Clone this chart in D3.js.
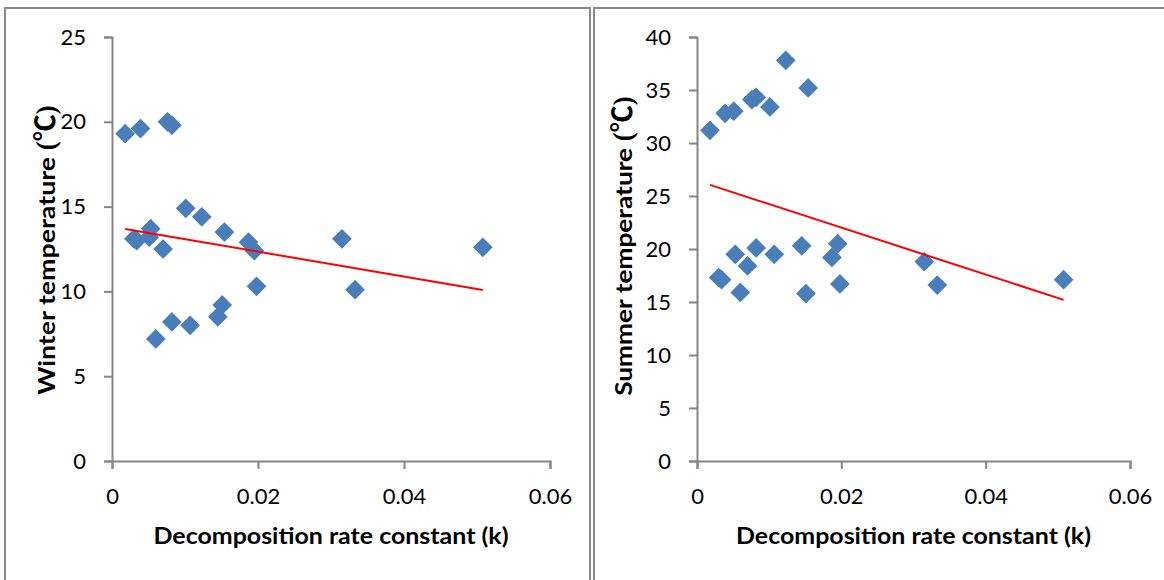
<!DOCTYPE html>
<html>
<head>
<meta charset="utf-8">
<script src="https://cdn.jsdelivr.net/npm/d3@7"></script>
<style>
  body { margin: 0; background: #fff; }
  svg { display: block; }
</style>
</head>
<body>
<svg id="chart" width="1164" height="580"></svg>
<script>
// decomposition rate constant k, one per sample (same samples in both panels)
const rateK = [0.0018, 0.0030, 0.0034, 0.0039, 0.0051, 0.0053, 0.0060, 0.0070, 0.0076, 0.0082, 0.0082, 0.0101,
               0.0107, 0.0123, 0.0145, 0.0151, 0.0154, 0.0187, 0.0195, 0.0198, 0.0315, 0.0333, 0.0508];
const winterTemp = [19.3, 13.1, 13.0, 19.6, 13.2, 13.7, 7.2, 12.5, 20.0, 19.8, 8.2, 14.9,
                    8.0, 14.4, 8.5, 9.2, 13.5, 12.9, 12.4, 10.3, 13.1, 10.1, 12.6];
const summerTemp = [31.2, 17.3, 17.1, 32.8, 33.0, 19.5, 15.9, 18.4, 34.1, 34.3, 20.1, 33.4,
                    19.5, 37.8, 20.3, 15.8, 35.2, 19.2, 20.5, 16.7, 18.8, 16.6, 17.1];

// linear trendline ends
const trendK = [0.0018, 0.0508];
const winterTrend = [13.68, 10.08];
const summerTrend = [26.05, 15.2];

const xTicks = [0, 0.02, 0.04, 0.06];
const winterTicks = [0, 5, 10, 15, 20, 25];
const summerTicks = [0, 5, 10, 15, 20, 25, 30, 35, 40];

const svg = d3.select("#chart");
const FONT = "Lato, 'Open Sans', sans-serif";

// outer frames of the two pasted charts
const frame = svg.append("g")
  .attr("fill", "none")
  .attr("stroke", "#8a8a8a")
  .attr("stroke-width", 2);
frame.append("path").attr("d", "M5,590 V8 H590 V590");
frame.append("path").attr("d", "M594,590 V8 H1170");

/** One scatter panel with a trendline. */
class Panel {
    constructor(opts) {
        this.o = opts;
        this.x = d3.scaleLinear().domain([0, 0.06]).range([opts.left, opts.right]);
        this.y = d3.scaleLinear().domain([0, opts.yMax]).range([461, 37]);
    }

    draw() {
        const o = this.o, x = this.x, y = this.y;
        const g = svg.append("g");

        // y axis
        const yAxis = d3.axisLeft(y).tickValues(o.yTicks).tickSize(8).tickPadding(18).tickFormat(d3.format("d"));
        g.append("g")
          .attr("transform", `translate(${o.left},0)`)
          .call(yAxis)
          .call(s => this.styleAxis(s));

        // x axis
        const xAxis = d3.axisBottom(x).tickValues(xTicks).tickSize(8).tickPadding(19)
          .tickFormat(d => d === 0 ? "0" : d3.format(".2f")(d));
        g.append("g")
          .attr("transform", "translate(0,461)")
          .call(xAxis)
          .call(s => this.styleAxis(s));

        // points
        g.append("g")
          .selectAll("path")
          .data(rateK.map((k, i) => [k, o.temps[i]]))
          .enter()
          .append("path")
          .attr("d", d3.symbol(d3.symbolSquare, 195))
          .attr("transform", d => `translate(${x(d[0])},${y(d[1])}) rotate(45)`)
          .attr("fill", "#4a7ebb");

        // trendline
        g.append("line")
          .attr("x1", x(trendK[0])).attr("y1", y(o.trend[0]))
          .attr("x2", x(trendK[1])).attr("y2", y(o.trend[1]))
          .attr("stroke", "#ff0000")
          .attr("stroke-width", 2);

        // x title
        g.append("text")
          .attr("x", (o.left + o.right) / 2)
          .attr("y", 544)
          .attr("text-anchor", "middle")
          .attr("font-family", FONT)
          .attr("font-weight", "bold")
          .attr("font-size", 22)
          .attr("textLength", 355)
          .attr("lengthAdjust", "spacingAndGlyphs")
          .text("Decomposition rate constant (k)");

        // y title, the degree sign part is set in a serif/CJK face like the original
        const yt = g.append("text")
          .attr("transform", `translate(${o.titleX},${o.titleY}) rotate(-90)`)
          .attr("text-anchor", "middle")
          .attr("font-family", FONT)
          .attr("font-weight", "bold")
          .attr("font-size", 23);
        yt.append("tspan")
          .attr("textLength", o.titleLen)
          .attr("lengthAdjust", "spacingAndGlyphs")
          .text(o.title);
        yt.append("tspan")
          .attr("font-family", "'Liberation Serif', 'Noto Sans CJK SC', serif")
          .attr("font-size", 27)
          .text(" (℃)");
    }

    styleAxis(s) {
        s.select(".domain").attr("stroke", "#868686").attr("stroke-width", 2);
        s.selectAll(".tick line").attr("stroke", "#868686").attr("stroke-width", 2);
        s.selectAll(".tick text")
          .attr("font-family", FONT)
          .attr("font-size", 22)
          .attr("fill", "#000");
    }
}

new Panel({
    left: 112, right: 550, yMax: 25, yTicks: winterTicks,
    temps: winterTemp, trend: winterTrend,
    title: "Winter temperature", titleLen: 238, titleX: 55, titleY: 250
}).draw();

new Panel({
    left: 697, right: 1130, yMax: 40, yTicks: summerTicks,
    temps: summerTemp, trend: summerTrend,
    title: "Summer temperature", titleLen: 248, titleX: 632, titleY: 246
}).draw();
</script>
</body>
</html>
